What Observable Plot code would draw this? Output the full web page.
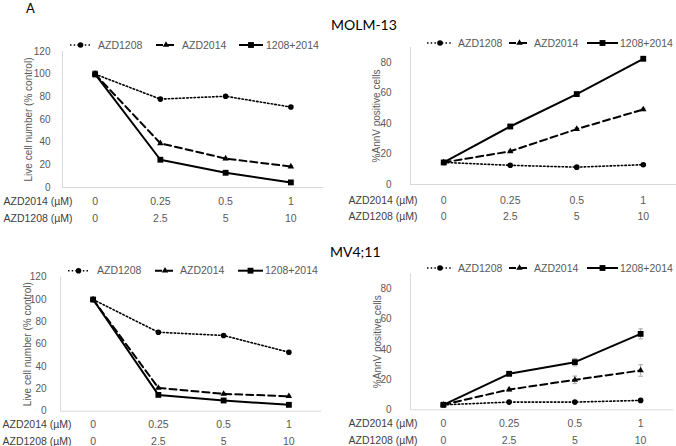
<!DOCTYPE html>
<html>
<head>
<meta charset="utf-8">
<script src="https://cdn.jsdelivr.net/npm/d3@7"></script>
<script src="https://cdn.jsdelivr.net/npm/@observablehq/plot@0.6"></script>
<style>
  body { margin: 0; background: #fff; }
  #root { position: relative; width: 676px; height: 446px; overflow: hidden; background: #fff; }
  .panel { position: absolute; }
</style>
</head>
<body>
<div id="root"></div>
<script>
// ---------------- data ----------------
const doses2014 = ["0", "0.25", "0.5", "1"];
const doses1208 = ["0", "2.5", "5", "10"];
const rowLabels = ["AZD2014 (\u00b5M)", "AZD1208 (\u00b5M)"];
const seriesNames = ["AZD1208", "AZD2014", "1208+2014"];
const cellLines = ["MOLM-13", "MV4;11"];
const figureLetter = "A";
const yTitles = ["Live cell number (% control)", "%AnnV positive cells"];
const liveTicks = [0, 20, 40, 60, 80, 100, 120];
const annvTicks = [0, 20, 40, 60, 80];

// MOLM-13, live cell number (% control)
const molmLive1208 = [100, 78, 80.5, 71];
const molmLive2014 = [100, 39, 25.5, 18.5];
const molmLiveCombo = [100, 24.5, 13, 4.5];
const molmLiveErr1208 = [3, 1, 1.2, 0.8];
const molmLiveErr2014 = [3, 1, 1, 0.8];
const molmLiveErrCombo = [3, 0.8, 0.8, 0.6];

// MOLM-13, %AnnV positive cells
const molmAnnv1208 = [14.5, 12.6, 11.4, 13];
const molmAnnv2014 = [14.5, 21.8, 36.4, 49.3];
const molmAnnvCombo = [14.5, 38.1, 59.4, 82.6];
const molmAnnvErr1208 = [0.5, 0.5, 0.5, 0.5];
const molmAnnvErr2014 = [0.5, 0.8, 0.8, 0.8];
const molmAnnvErrCombo = [0.5, 0.8, 0.8, 0.8];

// MV4;11, live cell number (% control)
const mvLive1208 = [100, 70.7, 67.8, 52.8];
const mvLive2014 = [100, 20.9, 15.5, 13.4];
const mvLiveCombo = [100, 14.6, 9.6, 5.7];
const mvLiveErr1208 = [1, 1, 1, 1];
const mvLiveErr2014 = [1, 0.8, 0.8, 0.8];
const mvLiveErrCombo = [1, 0.8, 0.6, 0.6];

// MV4;11, %AnnV positive cells
const mvAnnv1208 = [3.3, 5.1, 5.1, 6.2];
const mvAnnv2014 = [3.3, 13.4, 19.8, 26.0];
const mvAnnvCombo = [3.3, 23.8, 31.5, 50.2];
const mvAnnvErr1208 = [0.3, 0.5, 0.5, 0.6];
const mvAnnvErr2014 = [0.3, 0.9, 2.5, 3.8];
const mvAnnvErrCombo = [0.3, 1.0, 2.5, 3.3];

// ---------------- styles ----------------
const seriesStyle = {
  "AZD1208":   {dash: "1.5 2.2", width: 1.6, symbol: "circle",   r: 2.8, d3sym: d3.symbolCircle},
  "AZD2014":   {dash: "7 4",     width: 2,   symbol: "triangle", r: 2.4, d3sym: d3.symbolTriangle},
  "1208+2014": {dash: null,      width: 2,   symbol: "square",   r: 3.3, d3sym: d3.symbolSquare}
};
const FONT = "'Liberation Sans', Arial, sans-serif";
const TITLE_FONT = "Lato, 'Open Sans', sans-serif";
const GRAY = "#595959";
const AXIS = "#d9d9d9";

function rowsOf(values, errs, name) {
  return values.map((v, i) => ({i, v, e: errs[i], series: name}));
}

const panels = [
  {left: 0, top: 0, width: 335, height: 230, mL: 62, mR: 12, mT: 51, mB: 43, yMax: 120, ticks: liveTicks,
   yTitle: yTitles[0], tickPad: 12, rowDy: [14.4, 31], rowDx: -59, titleDx: -34,
   data: [[molmLive1208, molmLiveErr1208], [molmLive2014, molmLiveErr2014], [molmLiveCombo, molmLiveErrCombo]],
   legendY: 45, legend: [[70, 91, 98], [156, 176, 182], [239, 263, 266]]},
  {left: 338, top: 0, width: 338, height: 230, mL: 72, mR: 0, mT: 47, mB: 46, yMax: 90, ticks: annvTicks,
   yTitle: yTitles[1], tickPad: 19, rowDy: [16, 32], rowDx: -62, titleDx: -34,
   data: [[molmAnnv1208, molmAnnvErr1208], [molmAnnv2014, molmAnnvErr2014], [molmAnnvCombo, molmAnnvErrCombo]],
   legendY: 43, legend: [[427, 453, 458], [509, 530, 534], [587, 618, 620]]},
  {left: 0, top: 225, width: 335, height: 221, mL: 60, mR: 14, mT: 51.7, mB: 35.3, yMax: 120, ticks: liveTicks,
   yTitle: yTitles[0], tickPad: 14, rowDy: [13.3, 30], rowDx: -58, titleDx: -33,
   data: [[mvLive1208, mvLiveErr1208], [mvLive2014, mvLiveErr2014], [mvLiveCombo, mvLiveErrCombo]],
   legendY: 270.7, legend: [[68, 89, 97], [155, 175, 180], [238, 263, 265]]},
  {left: 338, top: 225, width: 338, height: 221, mL: 72, mR: 3, mT: 48.2, mB: 36.7, yMax: 90, ticks: annvTicks,
   yTitle: yTitles[1], tickPad: 19, rowDy: [13.4, 30.7], rowDx: -62, titleDx: -33,
   data: [[mvAnnv1208, mvAnnvErr1208], [mvAnnv2014, mvAnnvErr2014], [mvAnnvCombo, mvAnnvErrCombo]],
   legendY: 268, legend: [[427, 453, 458], [509, 530, 534], [587, 618, 620]]}
];

const root = document.getElementById("root");

for (const p of panels) {
  const allRows = [];
  const marks = [
    Plot.ruleY([0], {stroke: AXIS, strokeWidth: 1}),
    Plot.ruleX([-0.5], {stroke: AXIS, strokeWidth: 1})
  ];
  p.data.forEach(([vals, errs], k) => allRows.push(rowsOf(vals, errs, seriesNames[k])));
  // error bars
  for (const rows of allRows) {
    marks.push(Plot.ruleX(rows, {x: "i", y1: d => d.v - d.e, y2: d => d.v + d.e, stroke: "#a6a6a6", strokeWidth: 1}));
    marks.push(Plot.link(rows, {x1: d => d.i - 0.035, x2: d => d.i + 0.035, y1: d => d.v + d.e, y2: d => d.v + d.e, stroke: "#a6a6a6", strokeWidth: 1}));
    marks.push(Plot.link(rows, {x1: d => d.i - 0.035, x2: d => d.i + 0.035, y1: d => d.v - d.e, y2: d => d.v - d.e, stroke: "#a6a6a6", strokeWidth: 1}));
  }
  // lines
  allRows.forEach((rows, k) => {
    const s = seriesStyle[seriesNames[k]];
    marks.push(Plot.line(rows, {x: "i", y: "v", stroke: "#000", strokeWidth: s.width, strokeDasharray: s.dash || undefined, strokeLinejoin: "miter"}));
  });
  // markers
  allRows.forEach((rows, k) => {
    const s = seriesStyle[seriesNames[k]];
    marks.push(Plot.dot(rows, {x: "i", y: "v", symbol: () => s.symbol, r: s.r, fill: "#000", stroke: "none"}));
  });
  // x category rows
  marks.push(Plot.text(doses2014, {x: (d, i) => i, text: d => d, frameAnchor: "bottom", textAnchor: "middle", lineAnchor: "middle", dy: p.rowDy[0], fill: GRAY, fontSize: 10.5}));
  marks.push(Plot.text(doses1208, {x: (d, i) => i, text: d => d, frameAnchor: "bottom", textAnchor: "middle", lineAnchor: "middle", dy: p.rowDy[1], fill: GRAY, fontSize: 10.5}));
  marks.push(Plot.text([rowLabels[0]], {frameAnchor: "bottom-left", dx: p.rowDx, dy: p.rowDy[0], textAnchor: "start", lineAnchor: "middle", fill: "#404040", fontSize: 10.5}));
  marks.push(Plot.text([rowLabels[1]], {frameAnchor: "bottom-left", dx: p.rowDx, dy: p.rowDy[1], textAnchor: "start", lineAnchor: "middle", fill: "#404040", fontSize: 10.5}));
  // y title
  marks.push(Plot.text([p.yTitle], {frameAnchor: "left", rotate: -90, textAnchor: "middle", lineAnchor: "middle", dx: p.titleDx, fill: GRAY, fontSize: 10}));

  const chart = Plot.plot({
    width: p.width, height: p.height,
    marginLeft: p.mL, marginRight: p.mR, marginTop: p.mT, marginBottom: p.mB,
    style: {fontFamily: FONT, fontSize: "10px", color: GRAY, background: "transparent", overflow: "visible"},
    x: {type: "linear", domain: [-0.5, 3.5], axis: null},
    y: {domain: [0, p.yMax], ticks: p.ticks, tickSize: 0, tickPadding: p.tickPad, label: null, tickFormat: d => String(d)},
    marks
  });
  const div = document.createElement("div");
  div.className = "panel";
  div.style.left = p.left + "px";
  div.style.top = p.top + "px";
  div.style.width = p.width + "px";
  div.style.height = p.height + "px";
  div.appendChild(chart);
  root.appendChild(div);
}

// overlay: legends and titles
const overlay = d3.select(root).append("svg")
  .attr("width", 676).attr("height", 446)
  .style("position", "absolute").style("left", 0).style("top", 0)
  .style("pointer-events", "none");

for (const p of panels) {
  p.legend.forEach(([x0, x1, tx], k) => {
    const name = seriesNames[k];
    const s = seriesStyle[name];
    overlay.append("line")
      .attr("x1", x0).attr("x2", x1).attr("y1", p.legendY).attr("y2", p.legendY)
      .attr("stroke", "#000").attr("stroke-width", s.width)
      .attr("stroke-dasharray", s.dash);
    overlay.append("path")
      .attr("transform", `translate(${(x0 + x1) / 2},${p.legendY})`)
      .attr("d", d3.symbol().type(s.d3sym).size(s.r * s.r * Math.PI)())
      .attr("fill", "#000");
    overlay.append("text")
      .attr("x", tx).attr("y", p.legendY).attr("dy", "0.35em")
      .attr("font-family", FONT).attr("font-size", 10.5).attr("fill", GRAY)
      .text(name);
  });
}

overlay.append("text").attr("x", 26).attr("y", 13)
  .attr("font-family", TITLE_FONT).attr("font-size", 13).attr("fill", "#000").text(figureLetter);
overlay.append("text").attr("x", 331).attr("y", 30)
  .attr("font-family", TITLE_FONT).attr("font-size", 14).attr("fill", "#000").text(cellLines[0]);
overlay.append("text").attr("x", 330).attr("y", 257)
  .attr("font-family", TITLE_FONT).attr("font-size", 14).attr("fill", "#000").text(cellLines[1]);
</script>
</body>
</html>
